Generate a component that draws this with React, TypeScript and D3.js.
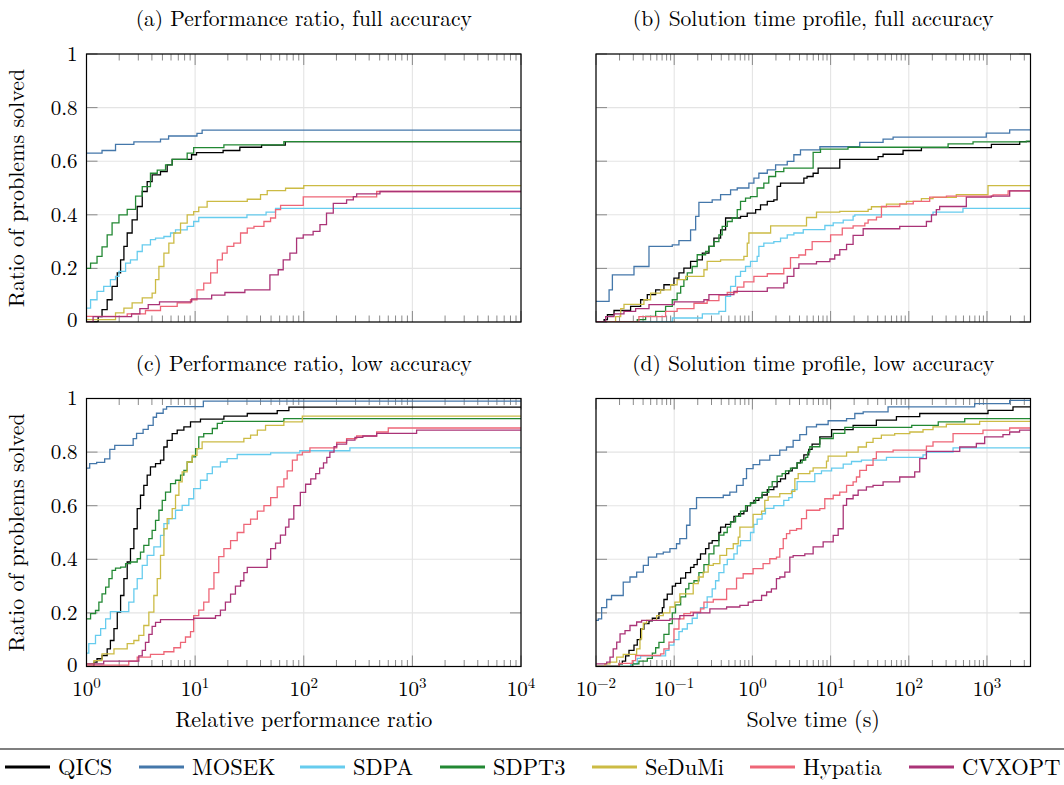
import * as d3 from 'd3';
import React, { useEffect, useRef } from 'react';

const solvers = ['QICS', 'MOSEK', 'SDPA', 'SDPT3', 'SeDuMi', 'Hypatia', 'CVXOPT'];
const colors = ['#000000', '#4477AA', '#66CCEE', '#228833', '#CCBB44', '#EE6677', '#AA3377'];
const titles = [
    '(a) Performance ratio, full accuracy',
    '(b) Solution time profile, full accuracy',
    '(c) Performance ratio, low accuracy',
    '(d) Solution time profile, low accuracy',
];
const xLabels = ['Relative performance ratio', 'Solve time (s)'];
const yLabel = 'Ratio of problems solved';
const yTicks = [0, 0.2, 0.4, 0.6, 0.8, 1];
const ratioTicks = [1, 10, 100, 1000, 10000];
const timeTicks = [0.01, 0.1, 1, 10, 100, 1000];
const ratioDomain = [1, 10000];
const timeDomain = [0.01, 3600];

// (a) performance ratio, full accuracy: [ratio, fraction solved]
const fullRatioQICS = [[1, 0], [1.28, 0.02], [1.39, 0.046], [1.55, 0.083], [1.72, 0.133], [1.92, 0.183], [2.06, 0.232], [2.21, 0.282], [2.37, 0.332], [2.63, 0.381], [2.93, 0.431], [3.26, 0.487], [3.62, 0.524], [4.02, 0.549], [4.8, 0.561], [5.53, 0.586], [6.15, 0.607], [9.27, 0.624], [10.3, 0.632], [18.1, 0.64], [25.8, 0.652], [40.9, 0.66], [67.6, 0.673]];
const fullRatioMOSEK = [[1, 0.63], [1.39, 0.64], [1.85, 0.663], [2.73, 0.672], [4.8, 0.682], [5.7, 0.694], [10.4, 0.704], [11.6, 0.716]];
const fullRatioSDPA = [[1, 0.052], [1.09, 0.083], [1.25, 0.114], [1.44, 0.133], [1.66, 0.158], [1.85, 0.17], [1.99, 0.189], [2.29, 0.22], [2.54, 0.232], [2.93, 0.263], [3.26, 0.288], [3.88, 0.307], [4.32, 0.313], [5.16, 0.319], [5.94, 0.332], [6.6, 0.344], [8.45, 0.357], [9.7, 0.375], [10.8, 0.39], [30, 0.4], [45, 0.41], [55, 0.424]];
const fullRatioSDPT3 = [[1, 0.2], [1.09, 0.22], [1.25, 0.245], [1.39, 0.28], [1.55, 0.325], [1.72, 0.37], [1.99, 0.4], [2.37, 0.42], [2.83, 0.47], [3.26, 0.505], [3.88, 0.555], [4.48, 0.567], [5.34, 0.586], [6.15, 0.607], [8.45, 0.63], [9.7, 0.651], [18.4, 0.661], [65.6, 0.673]];
const fullRatioSeDuMi = [[1, 0.009], [1.85, 0.034], [2.21, 0.052], [2.63, 0.071], [3.26, 0.09], [4.02, 0.108], [4.32, 0.158], [4.64, 0.207], [5.16, 0.257], [5.73, 0.294], [6.37, 0.332], [7.34, 0.369], [8.45, 0.4], [9.7, 0.412], [10.8, 0.429], [12.9, 0.45], [30.2, 0.458], [40, 0.475], [46.1, 0.49], [68, 0.499], [100, 0.509]];
const fullRatioHypatia = [[1, 0.021], [2.37, 0.03], [3.49, 0.043], [4.8, 0.058], [6.84, 0.071], [9.07, 0.083], [10.4, 0.12], [12, 0.145], [13.9, 0.183], [16, 0.232], [17.8, 0.257], [19.7, 0.282], [22.7, 0.294], [26.2, 0.332], [30.2, 0.35], [34.8, 0.357], [43, 0.375], [49.5, 0.388], [55, 0.419], [61.2, 0.435], [99, 0.467], [469, 0.487]];
const fullRatioCVXOPT = [[1, 0], [1.15, 0.02], [2.6, 0.03], [3.1, 0.05], [3.7, 0.065], [4.7, 0.075], [9.3, 0.086], [14.2, 0.1], [18.8, 0.11], [28.7, 0.12], [48.8, 0.176], [58.2, 0.195], [64.7, 0.232], [74.6, 0.257], [85.9, 0.313], [98.9, 0.325], [122, 0.338], [141, 0.363], [162, 0.406], [187, 0.443], [248, 0.456], [286, 0.468], [307, 0.478], [503, 0.487]];

// (b) solve time, full accuracy: [seconds, fraction solved]
const fullTimeQICS = [[0.01, 0], [0.0127, 0.009], [0.014, 0.027], [0.017, 0.043], [0.0277, 0.058], [0.0372, 0.083], [0.0453, 0.102], [0.0579, 0.12], [0.0739, 0.139], [0.0993, 0.164], [0.115, 0.183], [0.133, 0.201], [0.162, 0.226], [0.197, 0.232], [0.229, 0.257], [0.278, 0.282], [0.322, 0.313], [0.392, 0.344], [0.454, 0.388], [0.705, 0.394], [0.859, 0.406], [1.1, 0.419], [1.27, 0.437], [1.55, 0.45], [1.88, 0.456], [2.07, 0.506], [2.29, 0.518], [4.55, 0.537], [5.0, 0.543], [5.98, 0.555], [6.93, 0.574], [13.1, 0.607], [40.5, 0.617], [46.9, 0.626], [84.5, 0.64], [145, 0.651], [1138, 0.663], [2620, 0.673]];
const fullTimeMOSEK = [[0.01, 0.077], [0.0147, 0.12], [0.0162, 0.176], [0.0306, 0.207], [0.0476, 0.282], [0.0945, 0.288], [0.115, 0.304], [0.162, 0.344], [0.188, 0.394], [0.207, 0.446], [0.306, 0.456], [0.392, 0.475], [0.526, 0.493], [0.64, 0.5], [0.902, 0.518], [1.045, 0.537], [1.21, 0.555], [1.55, 0.568], [1.98, 0.586], [2.79, 0.599], [3.39, 0.624], [4.12, 0.642], [7.3, 0.654], [23.6, 0.67], [46.9, 0.682], [63, 0.69], [979, 0.705], [1950, 0.717]];
const fullTimeSDPA = [[0.01, 0], [0.0945, 0.015], [0.229, 0.03], [0.373, 0.04], [0.454, 0.096], [0.526, 0.133], [0.609, 0.17], [0.705, 0.189], [0.817, 0.207], [0.946, 0.226], [1.15, 0.245], [1.21, 0.282], [1.4, 0.294], [1.88, 0.3], [2.29, 0.313], [2.79, 0.325], [3.39, 0.332], [4.47, 0.345], [8.45, 0.36], [10.8, 0.37], [14.5, 0.38], [19.4, 0.395], [20.4, 0.4], [204, 0.41], [493, 0.424]];
const fullTimeSDPT3 = [[0.01, 0], [0.0337, 0.009], [0.0431, 0.021], [0.0579, 0.04], [0.0776, 0.058], [0.0945, 0.083], [0.109, 0.108], [0.121, 0.133], [0.133, 0.158], [0.147, 0.183], [0.17, 0.207], [0.197, 0.251], [0.252, 0.263], [0.278, 0.282], [0.322, 0.3], [0.373, 0.325], [0.411, 0.357], [0.477, 0.375], [0.552, 0.388], [0.64, 0.419], [0.705, 0.45], [0.817, 0.462], [0.946, 0.468], [1.15, 0.5], [1.4, 0.518], [1.62, 0.543], [1.98, 0.561], [2.52, 0.574], [5.98, 0.633], [7.43, 0.645], [16.7, 0.652], [318, 0.665], [663, 0.672], [3190, 0.675]];
const fullTimeSeDuMi = [[0.01, 0], [0.0178, 0.02], [0.0207, 0.05], [0.0228, 0.066], [0.041, 0.083], [0.0499, 0.108], [0.067, 0.12], [0.09, 0.139], [0.109, 0.158], [0.14, 0.17], [0.24, 0.195], [0.264, 0.226], [0.392, 0.232], [0.778, 0.245], [0.859, 0.294], [0.902, 0.332], [1.71, 0.359], [4.92, 0.39], [6.6, 0.41], [13.1, 0.413], [30.2, 0.42], [33.3, 0.43], [51.8, 0.44], [93.3, 0.45], [145, 0.46], [204, 0.465], [405, 0.475], [1030, 0.509]];
const fullTimeHypatia = [[0.01, 0], [0.0354, 0.02], [0.0776, 0.04], [0.109, 0.05], [0.179, 0.07], [0.264, 0.08], [0.373, 0.1], [0.477, 0.11], [0.64, 0.13], [0.778, 0.15], [1.045, 0.17], [1.55, 0.18], [2.52, 0.2], [3.07, 0.24], [3.93, 0.25], [4.78, 0.27], [5.81, 0.3], [10, 0.325], [14.1, 0.35], [19.4, 0.359], [27.4, 0.369], [30.2, 0.381], [38.6, 0.391], [44.7, 0.431], [76.7, 0.441], [114, 0.45], [185, 0.466], [303, 0.47], [1196, 0.474], [1862, 0.489]];
const fullTimeCVXOPT = [[0.01, 0], [0.0133, 0.02], [0.017, 0.03], [0.0228, 0.04], [0.0321, 0.05], [0.0476, 0.065], [0.1, 0.075], [0.24, 0.083], [0.278, 0.102], [0.58, 0.114], [1.55, 0.127], [2.52, 0.145], [2.79, 0.17], [3.39, 0.2], [3.93, 0.217], [6.6, 0.225], [9.8, 0.235], [11.3, 0.25], [13.1, 0.27], [16, 0.29], [19.4, 0.323], [26.1, 0.348], [76.6, 0.357], [168, 0.375], [195, 0.4], [225, 0.419], [248, 0.431], [544, 0.466], [1135, 0.47], [1950, 0.489]];

// (c) performance ratio, low accuracy
const lowRatioQICS = [[1, 0], [1.17, 0.016], [1.25, 0.029], [1.39, 0.041], [1.55, 0.066], [1.66, 0.097], [1.79, 0.141], [1.92, 0.203], [2.06, 0.265], [2.21, 0.328], [2.37, 0.39], [2.54, 0.44], [2.73, 0.514], [2.93, 0.589], [3.14, 0.639], [3.37, 0.676], [3.62, 0.714], [3.88, 0.745], [4.32, 0.757], [4.8, 0.77], [5.15, 0.819], [5.53, 0.844], [6.15, 0.869], [6.84, 0.882], [7.88, 0.894], [9.07, 0.913], [11.2, 0.923], [18.4, 0.934], [30.2, 0.944], [57, 0.955], [73, 0.968]];
const lowRatioMOSEK = [[1, 0.74], [1.07, 0.757], [1.24, 0.762], [1.47, 0.775], [1.64, 0.81], [1.82, 0.825], [2.69, 0.85], [2.89, 0.87], [3.32, 0.885], [3.7, 0.9], [4.11, 0.93], [4.41, 0.945], [5.08, 0.96], [5.46, 0.97], [11.9, 0.99]];
const lowRatioSDPA = [[1, 0.05], [1.05, 0.085], [1.21, 0.116], [1.35, 0.141], [1.5, 0.178], [1.66, 0.205], [2.45, 0.24], [2.73, 0.29], [2.93, 0.328], [3.26, 0.377], [3.62, 0.415], [4.17, 0.446], [4.8, 0.489], [5.16, 0.533], [5.73, 0.552], [6.6, 0.583], [7.6, 0.601], [8.75, 0.626], [9.7, 0.664], [11.2, 0.695], [12.9, 0.72], [14.4, 0.745], [17.1, 0.763], [19.7, 0.776], [24.4, 0.791], [49.6, 0.797], [92, 0.805], [266, 0.816]];
const lowRatioSDPT3 = [[1, 0.178], [1.09, 0.197], [1.21, 0.209], [1.3, 0.24], [1.39, 0.271], [1.5, 0.296], [1.61, 0.328], [1.72, 0.359], [1.85, 0.367], [2.06, 0.371], [2.29, 0.384], [2.54, 0.39], [2.93, 0.402], [3.14, 0.427], [3.37, 0.452], [3.75, 0.477], [4.02, 0.508], [4.32, 0.545], [4.64, 0.583], [4.98, 0.62], [5.34, 0.651], [5.94, 0.682], [6.6, 0.695], [7.34, 0.714], [7.88, 0.732], [8.45, 0.763], [9.4, 0.782], [10.1, 0.813], [10.8, 0.857], [12, 0.869], [14.4, 0.888], [16, 0.907], [17.8, 0.915], [65.6, 0.925]];
const lowRatioSeDuMi = [[1, 0.01], [1.17, 0.022], [1.39, 0.047], [1.79, 0.066], [2.37, 0.085], [2.73, 0.097], [3.03, 0.116], [3.37, 0.153], [3.75, 0.203], [4.17, 0.265], [4.48, 0.328], [4.8, 0.415], [5.16, 0.514], [5.53, 0.552], [6.15, 0.589], [6.6, 0.639], [7.09, 0.689], [7.6, 0.726], [8.45, 0.763], [9.4, 0.788], [10.4, 0.813], [11.6, 0.838], [28.1, 0.851], [32.4, 0.863], [37.4, 0.882], [44.5, 0.9], [65.6, 0.913], [97, 0.934]];
const lowRatioHypatia = [[1, 0.005], [2.45, 0.02], [2.93, 0.035], [3.88, 0.045], [5.16, 0.055], [6.37, 0.07], [7.34, 0.09], [8.15, 0.11], [9.07, 0.13], [9.7, 0.19], [10.8, 0.21], [12, 0.24], [13.4, 0.29], [14.9, 0.35], [16.5, 0.41], [18.4, 0.44], [21.2, 0.47], [24.4, 0.5], [28.1, 0.53], [32.4, 0.55], [37.4, 0.58], [43, 0.6], [49.6, 0.63], [57, 0.67], [65.6, 0.7], [70.4, 0.73], [78.6, 0.77], [87, 0.79], [97, 0.8], [114, 0.816], [201, 0.836], [248, 0.85], [307, 0.86], [469, 0.875], [600, 0.89]];
const lowRatioCVXOPT = [[1, 0.01], [1.44, 0.02], [3.03, 0.04], [3.26, 0.06], [3.49, 0.09], [3.75, 0.12], [4.02, 0.15], [4.32, 0.165], [4.8, 0.175], [9.7, 0.18], [15.4, 0.19], [17.1, 0.21], [19, 0.24], [21.2, 0.27], [23.5, 0.3], [26.2, 0.32], [28.1, 0.35], [30.2, 0.37], [46, 0.4], [49.6, 0.44], [55, 0.46], [61, 0.49], [68, 0.52], [73, 0.55], [81, 0.6], [93, 0.65], [104, 0.68], [116, 0.7], [129, 0.72], [140, 0.74], [152, 0.76], [163, 0.78], [174, 0.8], [190, 0.82], [201, 0.83], [248, 0.845], [296, 0.855], [350, 0.86], [469, 0.87], [1094, 0.882]];

// (d) solve time, low accuracy
const lowTimeQICS = [[0.01, 0], [0.0197, 0.01], [0.0217, 0.02], [0.0239, 0.04], [0.0264, 0.06], [0.0306, 0.08], [0.0337, 0.1], [0.0372, 0.14], [0.041, 0.16], [0.0476, 0.17], [0.0525, 0.18], [0.0638, 0.2], [0.0705, 0.22], [0.0739, 0.25], [0.0815, 0.27], [0.0945, 0.3], [0.104, 0.31], [0.121, 0.33], [0.14, 0.35], [0.162, 0.37], [0.179, 0.38], [0.197, 0.4], [0.217, 0.42], [0.252, 0.44], [0.278, 0.46], [0.306, 0.47], [0.373, 0.5], [0.392, 0.52], [0.454, 0.53], [0.526, 0.54], [0.58, 0.56], [0.671, 0.57], [0.778, 0.58], [0.859, 0.6], [0.946, 0.61], [1.045, 0.62], [1.21, 0.63], [1.33, 0.64], [1.55, 0.66], [1.88, 0.67], [2.07, 0.69], [2.29, 0.7], [2.65, 0.72], [2.92, 0.73], [3.23, 0.74], [3.73, 0.76], [4.12, 0.77], [4.55, 0.79], [5.26, 0.81], [5.8, 0.83], [7.28, 0.857], [10.3, 0.884], [19.4, 0.9], [38.5, 0.919], [69.5, 0.932], [138, 0.944], [1030, 0.956], [2150, 0.969]];
const lowTimeMOSEK = [[0.01, 0.172], [0.0107, 0.178], [0.0118, 0.22], [0.0137, 0.25], [0.0158, 0.265], [0.0223, 0.315], [0.0272, 0.334], [0.0331, 0.352], [0.0403, 0.377], [0.0467, 0.408], [0.0596, 0.42], [0.0725, 0.427], [0.0882, 0.44], [0.107, 0.458], [0.118, 0.477], [0.144, 0.527], [0.159, 0.589], [0.193, 0.63], [0.424, 0.639], [0.515, 0.651], [0.627, 0.676], [0.762, 0.701], [0.841, 0.738], [1.02, 0.753], [1.24, 0.77], [1.67, 0.788], [2.24, 0.807], [2.73, 0.819], [3.32, 0.844], [4.04, 0.865], [4.92, 0.894], [6.6, 0.903], [9.3, 0.917], [16, 0.925], [20.4, 0.944], [26.1, 0.95], [54.3, 0.969], [695, 0.981], [1950, 0.993]];
const lowTimeSDPA = [[0.01, 0], [0.0277, 0.01], [0.0337, 0.03], [0.0372, 0.04], [0.0776, 0.06], [0.0857, 0.08], [0.0993, 0.1], [0.115, 0.13], [0.127, 0.14], [0.147, 0.16], [0.17, 0.18], [0.197, 0.2], [0.217, 0.22], [0.264, 0.26], [0.306, 0.29], [0.338, 0.32], [0.373, 0.35], [0.432, 0.38], [0.477, 0.4], [0.58, 0.42], [0.64, 0.45], [0.705, 0.47], [0.946, 0.5], [1.045, 0.53], [1.15, 0.55], [1.33, 0.57], [1.47, 0.59], [1.88, 0.6], [2.52, 0.62], [2.92, 0.63], [3.23, 0.66], [3.73, 0.69], [6.28, 0.72], [7.64, 0.73], [10.3, 0.74], [14.5, 0.755], [18.5, 0.765], [24.8, 0.77], [51.8, 0.78], [152, 0.79], [168, 0.8], [368, 0.816]];
const lowTimeSDPT3 = [[0.01, 0], [0.0291, 0.01], [0.0354, 0.02], [0.0453, 0.03], [0.0525, 0.05], [0.0579, 0.07], [0.0638, 0.09], [0.0739, 0.12], [0.0857, 0.16], [0.0945, 0.2], [0.104, 0.23], [0.121, 0.26], [0.14, 0.29], [0.154, 0.31], [0.179, 0.32], [0.207, 0.35], [0.24, 0.38], [0.278, 0.42], [0.322, 0.45], [0.373, 0.49], [0.432, 0.5], [0.477, 0.52], [0.526, 0.54], [0.609, 0.56], [0.705, 0.58], [0.817, 0.6], [0.946, 0.61], [1.1, 0.63], [1.33, 0.65], [1.62, 0.67], [1.79, 0.69], [2.07, 0.71], [2.4, 0.72], [2.65, 0.73], [3.07, 0.74], [3.73, 0.76], [4.33, 0.77], [4.8, 0.78], [5.1, 0.8], [5.42, 0.82], [7.28, 0.85], [10.8, 0.87], [15.2, 0.892], [109, 0.9], [238, 0.913], [519, 0.925]];
const lowTimeSeDuMi = [[0.01, 0], [0.013, 0.01], [0.0151, 0.016], [0.0184, 0.035], [0.0223, 0.045], [0.0331, 0.066], [0.0365, 0.103], [0.0383, 0.14], [0.0403, 0.162], [0.0444, 0.172], [0.0596, 0.19], [0.0725, 0.2], [0.0882, 0.222], [0.102, 0.24], [0.118, 0.271], [0.175, 0.309], [0.203, 0.334], [0.235, 0.352], [0.272, 0.377], [0.316, 0.384], [0.384, 0.415], [0.468, 0.44], [0.569, 0.458], [0.659, 0.483], [0.692, 0.52], [1.02, 0.568], [1.31, 0.58], [1.44, 0.62], [1.59, 0.633], [2.24, 0.645], [3.16, 0.654], [3.49, 0.701], [3.85, 0.72], [5.42, 0.729], [5.98, 0.741], [8.86, 0.766], [9.3, 0.785], [16, 0.8], [22.5, 0.819], [28.7, 0.836], [34.9, 0.851], [44.6, 0.863], [66, 0.869], [103, 0.875], [152, 0.884], [204, 0.894], [302, 0.904], [805, 0.915]];
const lowTimeHypatia = [[0.01, 0], [0.0197, 0.012], [0.0291, 0.022], [0.0321, 0.041], [0.067, 0.047], [0.0739, 0.066], [0.0857, 0.091], [0.0993, 0.14], [0.115, 0.178], [0.133, 0.197], [0.162, 0.203], [0.217, 0.215], [0.24, 0.24], [0.316, 0.25], [0.468, 0.29], [0.627, 0.33], [0.762, 0.346], [1.02, 0.365], [1.37, 0.384], [1.67, 0.402], [2.03, 0.408], [2.24, 0.44], [2.48, 0.477], [2.73, 0.496], [3.01, 0.508], [3.67, 0.514], [4.25, 0.552], [4.92, 0.583], [7.28, 0.589], [8.43, 0.626], [10.8, 0.639], [13.1, 0.651], [16, 0.676], [19.4, 0.689], [21.4, 0.707], [23.6, 0.732], [28.7, 0.751], [34.9, 0.776], [38.5, 0.801], [63, 0.807], [168, 0.822], [204, 0.838], [368, 0.869], [889, 0.882], [1950, 0.89]];
const lowTimeCVXOPT = [[0.01, 0.01], [0.0137, 0.016], [0.0151, 0.035], [0.0166, 0.066], [0.0184, 0.091], [0.0203, 0.122], [0.0235, 0.134], [0.0272, 0.153], [0.0331, 0.166], [0.0383, 0.172], [0.0882, 0.178], [0.118, 0.19], [0.175, 0.2], [0.286, 0.215], [0.468, 0.222], [0.692, 0.228], [0.884, 0.24], [1.02, 0.247], [1.31, 0.265], [1.52, 0.278], [1.75, 0.29], [2.03, 0.328], [2.24, 0.334], [2.6, 0.352], [3.01, 0.408], [3.32, 0.414], [4.68, 0.42], [5.98, 0.446], [8.03, 0.465], [10.8, 0.489], [12.5, 0.514], [14.5, 0.601], [16, 0.626], [19.4, 0.639], [22.5, 0.658], [28.7, 0.67], [34.9, 0.676], [46.9, 0.689], [76.6, 0.707], [119, 0.726], [138, 0.776], [168, 0.803], [448, 0.819], [731, 0.832], [934, 0.857], [1600, 0.865], [1950, 0.875], [2610, 0.882]];

const panels = [
    { series: [fullRatioQICS, fullRatioMOSEK, fullRatioSDPA, fullRatioSDPT3, fullRatioSeDuMi, fullRatioHypatia, fullRatioCVXOPT], domain: ratioDomain, ticks: ratioTicks },
    { series: [fullTimeQICS, fullTimeMOSEK, fullTimeSDPA, fullTimeSDPT3, fullTimeSeDuMi, fullTimeHypatia, fullTimeCVXOPT], domain: timeDomain, ticks: timeTicks },
    { series: [lowRatioQICS, lowRatioMOSEK, lowRatioSDPA, lowRatioSDPT3, lowRatioSeDuMi, lowRatioHypatia, lowRatioCVXOPT], domain: ratioDomain, ticks: ratioTicks },
    { series: [lowTimeQICS, lowTimeMOSEK, lowTimeSDPA, lowTimeSDPT3, lowTimeSeDuMi, lowTimeHypatia, lowTimeCVXOPT], domain: timeDomain, ticks: timeTicks },
];

const W = 1064;
const H = 785;
const PW = 434.5;
const PH = 268;
const colX = [86.5, 596];
const rowY = [54, 398.5];
const FONT = "'Latin Modern Roman', 'Liberation Serif', serif";

export default function App() {
    const ref = useRef(null);

    useEffect(() => {
        const svg = d3.select(ref.current);
        svg.selectAll('*').remove();
        svg.append('rect').attr('width', W).attr('height', H).attr('fill', '#fff');
        const root = svg.append('g').style('font-family', FONT);

        panels.forEach((p, pi) => {
            const col = pi % 2;
            const row = Math.floor(pi / 2);
            const x0 = colX[col];
            const y0 = rowY[row];
            const x = d3.scaleLog().domain(p.domain).range([x0, x0 + PW]);
            const y = d3.scaleLinear().domain([0, 1]).range([y0 + PH, y0]);
            const g = root.append('g');

            // minor ticks: 2..9 in every decade inside the domain
            const minor = [];
            for (let e = -3; e <= 4; e++) {
                for (let m = 2; m <= 9; m++) {
                    const v = m * Math.pow(10, e);
                    if (v > p.domain[0] && v < p.domain[1]) minor.push(v);
                }
            }

            // grid
            g.selectAll('.gx').data(p.ticks).enter().append('line')
                .attr('x1', d => x(d)).attr('x2', d => x(d))
                .attr('y1', y0).attr('y2', y0 + PH)
                .attr('stroke', '#e4e4e4').attr('stroke-width', 1.1);
            g.selectAll('.gy').data(yTicks).enter().append('line')
                .attr('x1', x0).attr('x2', x0 + PW)
                .attr('y1', d => y(d)).attr('y2', d => y(d))
                .attr('stroke', '#e4e4e4').attr('stroke-width', 1.1);

            // tick marks (inside, top and bottom / left and right)
            const tickColor = '#8a8a8a';
            [y0, y0 + PH].forEach((edge, k) => {
                const dir = k === 0 ? 1 : -1;
                g.selectAll(null).data(minor).enter().append('line')
                    .attr('x1', d => x(d)).attr('x2', d => x(d))
                    .attr('y1', edge).attr('y2', edge + dir * 6.5)
                    .attr('stroke', tickColor).attr('stroke-width', 1);
                g.selectAll(null).data(p.ticks).enter().append('line')
                    .attr('x1', d => x(d)).attr('x2', d => x(d))
                    .attr('y1', edge).attr('y2', edge + dir * 11)
                    .attr('stroke', tickColor).attr('stroke-width', 1);
            });
            [x0, x0 + PW].forEach((edge, k) => {
                const dir = k === 0 ? 1 : -1;
                g.selectAll(null).data(yTicks).enter().append('line')
                    .attr('x1', edge).attr('x2', edge + dir * 11)
                    .attr('y1', d => y(d)).attr('y2', d => y(d))
                    .attr('stroke', tickColor).attr('stroke-width', 1);
            });

            // curves
            const clipId = `clip-${pi}`;
            svg.append('clipPath').attr('id', clipId).append('rect')
                .attr('x', x0).attr('y', y0 - 2).attr('width', PW).attr('height', PH + 2);
            const line = d3.line()
                .x(d => x(d[0]))
                .y(d => y(d[1]))
                .curve(d3.curveStepAfter);
            const cg = g.append('g').attr('clip-path', `url(#${clipId})`);
            p.series.forEach((s, si) => {
                const pts = s.concat([[p.domain[1], s[s.length - 1][1]]]);
                cg.append('path')
                    .attr('d', line(pts))
                    .attr('fill', 'none')
                    .attr('stroke', colors[si])
                    .attr('stroke-width', 1.3);
            });

            // frame
            g.append('rect')
                .attr('x', x0).attr('y', y0).attr('width', PW).attr('height', PH)
                .attr('fill', 'none').attr('stroke', '#000').attr('stroke-width', 1.2);

            // title
            g.append('text')
                .attr('x', x0 + PW / 2).attr('y', y0 - 28)
                .attr('text-anchor', 'middle')
                .style('font-size', '21.5px')
                .text(titles[pi]);

            if (col === 0) {
                g.selectAll(null).data(yTicks).enter().append('text')
                    .attr('x', x0 - 9).attr('y', d => y(d))
                    .attr('dy', d => (d === 0 ? '0.25em' : '0.33em'))
                    .attr('text-anchor', 'end')
                    .style('font-size', '21px')
                    .text(d => d3.format('~g')(d));
                g.append('text')
                    .attr('transform', `translate(24, ${y0 + PH / 2}) rotate(-90)`)
                    .attr('text-anchor', 'middle')
                    .style('font-size', '22px')
                    .text(yLabel);
            }

            if (row === 1) {
                p.ticks.forEach(t => {
                    const e = Math.round(Math.log10(t));
                    const txt = g.append('text')
                        .attr('x', x(t)).attr('y', y0 + PH + 29)
                        .attr('text-anchor', 'middle')
                        .style('font-size', '21px');
                    txt.append('tspan').text('10');
                    txt.append('tspan').attr('dy', -7.5).style('font-size', '15px')
                        .text(e < 0 ? `\u2212${-e}` : `${e}`);
                });
                g.append('text')
                    .attr('x', x0 + PW / 2).attr('y', y0 + PH + 60)
                    .attr('text-anchor', 'middle')
                    .style('font-size', '22px')
                    .text(xLabels[col]);
            }
        });

        // legend
        root.append('line')
            .attr('x1', 0).attr('x2', W).attr('y1', 749).attr('y2', 749)
            .attr('stroke', '#000').attr('stroke-width', 1.2);
        const legendX = [5, 139, 300, 440, 592, 750, 909];
        solvers.forEach((name, i) => {
            root.append('line')
                .attr('x1', legendX[i]).attr('x2', legendX[i] + 45)
                .attr('y1', 767).attr('y2', 767)
                .attr('stroke', colors[i]).attr('stroke-width', 3);
            root.append('text')
                .attr('x', legendX[i] + 53).attr('y', 774.5)
                .style('font-size', '22.5px')
                .text(name);
        });
    }, []);

    return <svg ref={ref} width={W} height={H} style={{ position: 'absolute', left: 0, top: 0 }}></svg>;
}
